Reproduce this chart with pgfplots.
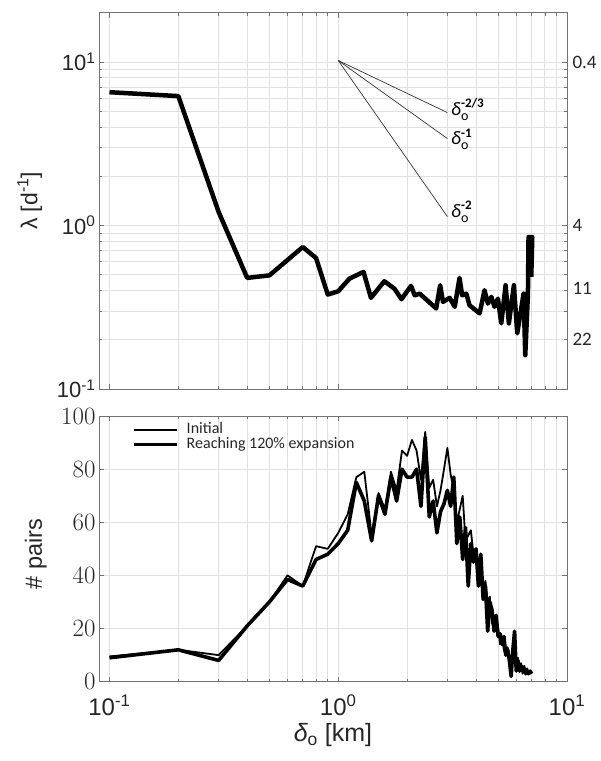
\documentclass[border=0pt]{standalone}
\usepackage{pgfplots}
\pgfplotsset{compat=1.18}
\usepackage{pgfplotstable}
\usepackage{amsmath}
\usepackage{fontspec}
\setmainfont{Liberation Sans}
\newfontfamily\calfont{Carlito}
\newcommand{\dlab}[1]{{\itshape δ}\rlap{\raisebox{7.5pt}{\fontsize{13}{13}\selectfont\bfseries #1}}\raisebox{-5pt}{\fontsize{14}{14}\selectfont o}}

\pgfplotstableread{
x lam
0.1 6.53
0.2 6.18
0.3 1.21
0.4 0.478
0.5 0.495
0.7 0.738
0.8 0.632
0.9 0.378
1.0 0.396
1.12 0.473
1.29 0.52
1.39 0.361
1.59 0.456
1.76 0.411
1.89 0.354
2.08 0.427
2.16 0.374
2.27 0.383
2.68 0.311
2.79 0.431
2.87 0.341
3.07 0.361
3.23 0.318
3.39 0.478
3.48 0.374
3.63 0.383
3.75 0.325
4.15 0.290
4.36 0.402
4.51 0.333
4.67 0.366
4.82 0.318
4.99 0.357
5.16 0.252
5.39 0.431
5.57 0.252
5.86 0.431
6.06 0.219
6.31 0.311
6.46 0.383
6.57 0.161
6.75 0.383
6.79 0.849
7.05 0.849
6.98 0.485
}\lamtable

\pgfplotstableread{
x thick thin
0.1 9 9.5
0.2 12 12
0.3 8 10
0.4 21 21
0.5 30 30
0.6 38.5 40
0.7 36 36
0.8 46 51
0.9 48 50
1.0 52 56
1.1 57 63
1.2 75 77
1.3 68 79
1.4 53 55
1.5 70 71
1.6 63 65
1.7 77 79
1.8 68 72
1.9 80 87
2.0 77 85
2.1 77 91
2.2 80 87
2.3 66 76
2.4 92 94
2.5 62 73
2.6 68 76
2.7 56 66
2.8 64 72
2.9 67 80
3.0 72 88
3.1 66 78
3.2 77 72
3.3 52 60
3.4 62 65
3.5 46 70
3.6 58 53
3.7 36 55
3.8 52 57
3.9 45 48
4.0 50 47
4.1 36 40
4.2 48 42
4.3 31 33
4.4 36 38
4.5 19 30
4.6 30 32
4.7 27 22
4.8 19 21
4.9 25 24
5.0 17 20
5.1 18 14
5.2 14 16
5.3 17 12
5.4 10 10
5.5 12 13
5.6 8 10
5.7 2 6
5.8 12 9
5.9 19 15
6.0 4 6
6.1 8 9
6.2 4 5
6.3 6 7
6.4 4 3
6.5 5 6
6.6 3 4
6.7 4 5
6.8 3 3
6.9 4 4
7.0 3 3
}\pairtable

\pgfplotsset{
  legend image code/.code={\draw[#1] (0pt,0pt) -- (43pt,0pt);},
}

\begin{document}
\begin{tikzpicture}[x=1pt,y=1pt]
\useasboundingbox (0,0) rectangle (601,761);

% ---------- top axis ----------
\begin{axis}[
  scale only axis, width=468pt,
  xmode=log, xmin=0.09, xmax=10,
  grid=both,
  major grid style={black!12, line width=0.7pt},
  minor grid style={black!12, line width=0.7pt},
  axis line style={black!55, line width=0.9pt},
  tick style={black!55, line width=0.6pt},
  major tick length=5pt, minor tick length=3pt,
  tick align=inside,
  at={(99pt,372pt)}, anchor=south west,
  height=376.3pt,
  ymode=log, ymin=0.1, ymax=20,
  xtick={0.1,1,10}, xticklabels={,,},
  ytick={0.1,1,10},
  yticklabels={10\textsuperscript{-1},10\textsuperscript{0},10\textsuperscript{1}},
  yticklabel style={font=\fontsize{22}{24}\selectfont, text=black!85},
  ylabel={λ [d\textsuperscript{-1}]},
  ylabel style={font=\fontsize{23}{26}\selectfont, text=black!85, at={(axis description cs:-0.148,0.5)}, anchor=center},
]
\addplot[black, line width=4.5pt, line join=round] table[x=x,y=lam] {\lamtable};
\addplot[black!80, line width=0.7pt] coordinates {(1,10.2) (3,4.90)};
\addplot[black!80, line width=0.7pt] coordinates {(1,10.2) (3,3.40)};
\addplot[black!80, line width=0.7pt] coordinates {(1,10.2) (3,1.133)};
\node[anchor=west, fill=white, inner sep=0.5pt, xshift=3pt, yshift=3pt, font=\calfont\fontsize{19}{21}\selectfont] at (axis cs:3,4.90) {\dlab{-2/3}};
\node[anchor=west, fill=white, inner sep=0.5pt, xshift=3pt, yshift=-1pt, font=\calfont\fontsize{19}{21}\selectfont] at (axis cs:3,3.40) {\dlab{-1}};
\node[anchor=west, fill=white, inner sep=0.5pt, xshift=3pt, yshift=5pt, font=\calfont\fontsize{19}{21}\selectfont] at (axis cs:3,1.133) {\dlab{-2}};
\end{axis}

% ---------- right labels ----------
\begin{axis}[
  at={(99pt,372pt)}, anchor=south west,
  scale only axis, width=468pt, height=376.3pt,
  xmode=log, ymode=log, xmin=0.09, xmax=10, ymin=0.1, ymax=20,
  hide x axis,
  axis y line*=right,
  y axis line style={draw=none},
  ytick={10,1,0.411,0.2}, yticklabels={0.4,4,11,22},
  yminorticks=false, major tick length=0pt,
  yticklabel style={font=\calfont\fontsize{19}{21}\selectfont, text=black!85, xshift=2pt},
]
\addplot[draw=none] coordinates {(1,1)};
\end{axis}

% ---------- bottom axis ----------
\begin{axis}[
  scale only axis, width=468pt,
  xmode=log, xmin=0.09, xmax=10,
  grid=both,
  major grid style={black!12, line width=0.7pt},
  minor grid style={black!12, line width=0.7pt},
  axis line style={black!55, line width=0.9pt},
  tick style={black!55, line width=0.6pt},
  major tick length=5pt, minor tick length=3pt,
  tick align=inside,
  at={(99pt,79.3pt)}, anchor=south west,
  height=265.7pt,
  ymin=0, ymax=100,
  ytick={0,20,40,60,80,100},
  xtick={0.1,1,10},
  xticklabels={10\textsuperscript{-1},10\textsuperscript{0},10\textsuperscript{1}},
  xticklabel style={font=\fontsize{24}{26}\selectfont, text=black!85, yshift=-10pt},
  yticklabel style={font=\fontsize{26.5}{28}\selectfont, text=black!85},
  ylabel={\# pairs},
  ylabel style={font=\fontsize{23.5}{26}\selectfont, text=black!85, at={(axis description cs:-0.135,0.48)}, anchor=center},
  xlabel={$\text{\itshape δ}_{\text{o}}$ [km]},
  xlabel style={font=\fontsize{25}{27}\selectfont, text=black!85, at={(axis description cs:0.5,-0.2)}, anchor=center},
  legend style={at={(axis description cs:0.064,0.985)}, anchor=north west, draw=none, fill=none,
    font=\calfont\fontsize{16}{16}\selectfont, text=black!85, column sep=8pt,
    nodes={inner sep=0pt, text height=11pt, text depth=4pt}},
  legend cell align=left,
]
\addplot[black, line width=1.8pt, line join=round] table[x=x,y=thin] {\pairtable};
\addlegendentry{Initial}
\addplot[black, line width=3.6pt, line join=round] table[x=x,y=thick] {\pairtable};
\addlegendentry{Reaching 120\% expansion}
\end{axis}
\end{tikzpicture}
\end{document}
